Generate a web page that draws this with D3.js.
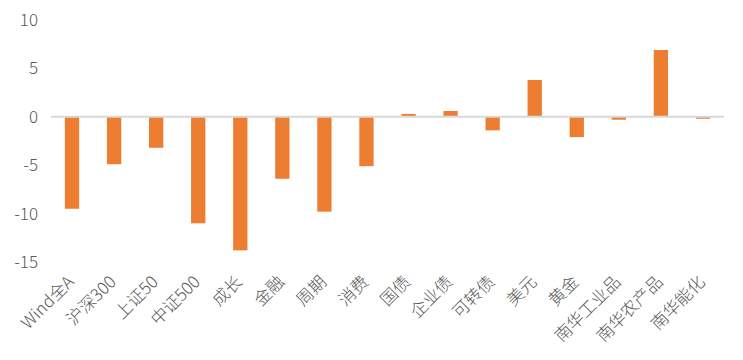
<!DOCTYPE html>
<html><head><meta charset="utf-8">
<script src="https://cdn.jsdelivr.net/npm/d3@7"></script>
<style>body{margin:0;background:#fff}svg{display:block}</style>
</head><body>
<svg id="c" width="743" height="360"></svg>
<script>
const categories = ["Wind全A","沪深300","上证50","中证500","成长","金融","周期","消费","国债","企业债","可转债","美元","黄金","南华工业品","南华农产品","南华能化"];
const values = [-9.5,-4.9,-3.2,-11.0,-13.8,-6.4,-9.8,-5.1,0.3,0.6,-1.4,3.8,-2.1,-0.3,6.9,-0.2];
const yTicks = [10,5,0,-5,-10,-15];

(function(){
const svg = d3.select("#c");
const pl = 51, pr = 724, pt = 20, pb = 262;
const font = "'Noto Sans CJK SC','Noto Sans',sans-serif";

const x = d3.scaleBand().domain(categories).range([pl, pr]).paddingInner(0.66).paddingOuter(0.33);
const y = d3.scaleLinear().domain([-15, 10]).range([pb, pt]);

svg.selectAll("rect.bar").data(values).enter().append("rect")
  .attr("x", (d,i) => x(categories[i]))
  .attr("width", x.bandwidth())
  .attr("y", d => y(Math.max(0,d)))
  .attr("height", d => Math.abs(y(d) - y(0)))
  .attr("fill", "#ED7D31");

svg.append("line").attr("x1", pl).attr("x2", pr)
  .attr("y1", y(0)).attr("y2", y(0))
  .attr("stroke", "#D9D9D9").attr("stroke-width", 2);

const yAxis = d3.axisLeft(y).tickValues(yTicks).tickSize(0).tickPadding(0).tickFormat(d3.format("d"));
const ga = svg.append("g").attr("transform", "translate(38,0)").call(yAxis);
ga.select(".domain").remove();
ga.selectAll("text").attr("font-family", font).attr("font-size", 17).attr("font-weight", 300)
  .attr("fill", "#595959").text(d => d < 0 ? "-" + Math.abs(d) : d);

const xc = d => x(d) + x.bandwidth()/2;
svg.selectAll("text.xl").data(categories).enter().append("text")
  .attr("class","xl")
  .attr("transform", d => `translate(${xc(d)+3},${283}) rotate(-45)`)
  .attr("text-anchor", "end")
  .attr("font-family", font).attr("font-size", 17).attr("font-weight", 300)
  .attr("fill", "#595959")
  .text(d => d);
})();
</script>
</body></html>
